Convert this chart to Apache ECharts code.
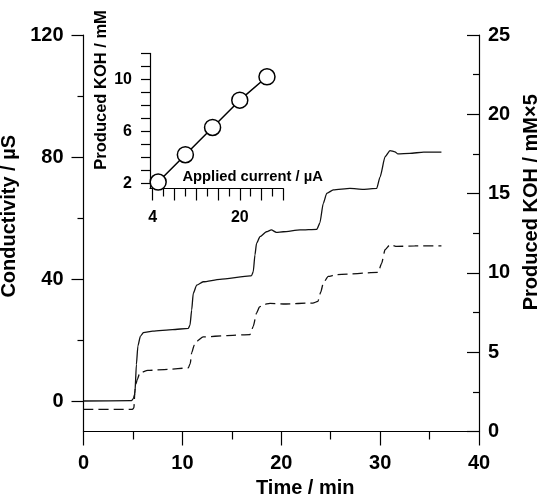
<!DOCTYPE html>
<html>
<head>
<meta charset="utf-8">
<script src="https://cdn.jsdelivr.net/npm/echarts@6/dist/echarts.min.js"></script>
<style>
  html, body { margin: 0; padding: 0; background: #fff; }
  #chart { width: 537px; height: 497px; }
</style>
</head>
<body>
<div id="chart"></div>
<script>
// Conductivity trace (solid), time in minutes and conductivity in µS
const condTime  = [0, 4.85, 5.05, 5.2, 5.35, 5.5, 5.75, 6.05, 7.0, 9.0, 10.6, 10.77, 10.94, 11.1, 11.45, 12.1, 13.8, 16.85, 17.0, 17.17, 17.34, 17.5, 17.85, 18.5, 19.0, 19.5, 20.2, 21.9, 23.6, 23.9, 24.25, 24.6, 25.26, 26.95, 28.3, 29.65, 30.0, 30.5, 31.0, 31.5, 31.8, 33.0, 34.4, 36.2];
const condValue = [0, 0.1, 0.8, 2.5, 12, 18, 21.2, 22.4, 22.9, 23.4, 23.8, 24.9, 29.8, 35.3, 38.0, 39.1, 39.9, 41.0, 41.1, 42.4, 47.9, 51.7, 53.9, 55.5, 56.1, 55.3, 55.5, 56.1, 56.3, 58.3, 64.8, 68.1, 69.2, 69.7, 69.4, 69.7, 73.5, 80.1, 82.1, 81.7, 81.0, 81.2, 81.6, 81.6];

// Produced KOH trace (dashed), mM x 5
const kohTime  = [0, 4.95, 5.1, 5.2, 5.3, 5.45, 5.7, 6.5, 8.5, 10.6, 10.8, 10.94, 11.2, 11.45, 12.1, 14.5, 16.84, 17.17, 17.5, 17.8, 18.2, 18.86, 20.2, 23.2, 23.7, 24.0, 24.25, 24.75, 25.6, 29.8, 30.15, 30.5, 31.0, 31.7, 33.5, 36.2];
const kohValue = [1.39, 1.39, 1.5, 2.6, 3.0, 3.3, 3.7, 3.85, 3.92, 4.01, 4.3, 4.96, 5.45, 5.69, 5.96, 6.05, 6.11, 6.63, 7.47, 7.85, 8.0, 8.08, 8.04, 8.1, 8.2, 8.8, 9.36, 9.78, 9.89, 10.03, 10.6, 11.46, 11.78, 11.67, 11.7, 11.71];

// Inset: applied current (µA) vs produced KOH (mM)
const currentUA = [5, 10, 15, 20, 25];
const kohMM     = [2.1, 4.2, 6.3, 8.4, 10.2];

// Tick positions and labels
const condTicks      = [0, 40, 80, 120];
const condMinorTicks = [20, 60, 100];
const insetYTicks    = [2, 3, 4, 5, 6, 7, 8, 9, 10, 11, 12];
const insetYLabels   = [2, 6, 10];
const insetXTicks    = [4, 8, 12, 16, 20, 24, 28];
const insetXMinor    = [6, 10, 14, 18, 22, 26];
const insetXLabels   = [4, 20];

const zip = (xs, ys) => xs.map((x, i) => [x, ys[i]]);

const FONT = '"Liberation Sans", Arial, Helvetica, sans-serif';
const ink = '#000';
const lineOf = { show: true, onZero: false, lineStyle: { color: ink, width: 1.2 } };
const tickStyle = { color: ink, width: 1.2 };
const txt = (size) => ({ color: ink, fontFamily: FONT, fontWeight: 'bold', fontSize: size });

const chart = echarts.init(document.getElementById('chart'), null, { renderer: 'canvas' });

chart.setOption({
  animation: false,
  backgroundColor: '#fff',
  grid: [
    { left: 83.5, right: 58, top: 35, bottom: 65.5, outerBoundsMode: 'none' },
    { left: 150, right: 253.7, top: 53.4, height: 135.1, outerBoundsMode: 'none' }
  ],
  xAxis: [
    {
      type: 'value', gridIndex: 0, position: 'bottom', min: 0, max: 40, interval: 10,
      name: 'Time / min', nameLocation: 'middle', nameGap: 45,
      nameTextStyle: Object.assign(txt(20), { padding: [0, 0, 0, 48] }),
      axisLine: lineOf,
      axisTick: { show: true, length: 14, lineStyle: tickStyle },
      minorTick: { show: true, splitNumber: 2, length: 8, lineStyle: tickStyle },
      axisLabel: Object.assign(txt(20), { margin: 22 }),
      splitLine: { show: false }
    },
    {
      type: 'value', gridIndex: 1, position: 'bottom', min: 3.5, max: 28,
      name: 'Applied current / µA', nameLocation: 'middle', nameGap: -19,
      nameTextStyle: Object.assign(txt(14.75), { padding: [0, 0, 0, 72] }),
      axisLine: lineOf,
      axisTick: { show: true, length: 12, customValues: insetXTicks, lineStyle: tickStyle },
      axisLabel: Object.assign(txt(16), { margin: 21, customValues: insetXLabels }),
      splitLine: { show: false }
    },
    {
      type: 'value', gridIndex: 1, position: 'bottom', min: 3.5, max: 28,
      axisLine: { show: false, onZero: false },
      axisTick: { show: true, length: 8, customValues: insetXMinor, lineStyle: tickStyle },
      axisLabel: { show: false },
      splitLine: { show: false }
    }
  ],
  yAxis: [
    {
      type: 'value', gridIndex: 0, position: 'left', min: -10, max: 120,
      name: 'Conductivity / µS', nameLocation: 'middle', nameGap: 46, nameRotate: 90,
      nameTextStyle: Object.assign(txt(20), { padding: [0, 0, 0, 34] }),
      axisLine: lineOf,
      axisTick: { show: true, length: 12, customValues: condTicks, lineStyle: tickStyle },
      axisLabel: Object.assign(txt(20), { margin: 20, customValues: condTicks }),
      splitLine: { show: false }
    },
    {
      type: 'value', gridIndex: 0, position: 'left', min: -10, max: 120,
      axisLine: { show: false, onZero: false },
      axisTick: { show: true, length: 6, customValues: condMinorTicks, lineStyle: tickStyle },
      axisLabel: { show: false },
      splitLine: { show: false }
    },
    {
      type: 'value', gridIndex: 0, position: 'right', min: 0, max: 25, interval: 5,
      name: 'Produced KOH / mM×5', nameLocation: 'middle', nameGap: 37, nameRotate: 90,
      nameTextStyle: Object.assign(txt(20), { padding: [0, 0, 0, 62] }),
      axisLine: lineOf,
      axisTick: { show: true, inside: true, length: 12, lineStyle: tickStyle },
      minorTick: { show: true, splitNumber: 2, length: 6, lineStyle: tickStyle },
      axisLabel: Object.assign(txt(20), { margin: 9 }),
      splitLine: { show: false }
    },
    {
      type: 'value', gridIndex: 1, position: 'left', min: 1.6, max: 12,
      name: 'Produced KOH / mM', nameLocation: 'middle', nameGap: 40, nameRotate: 90,
      nameTextStyle: Object.assign(txt(16.5), { padding: [0, 0, 0, 62] }),
      axisLine: lineOf,
      axisTick: { show: true, length: 9, customValues: insetYTicks, lineStyle: tickStyle },
      axisLabel: Object.assign(txt(16), { margin: 18, customValues: insetYLabels }),
      splitLine: { show: false }
    }
  ],
  series: [
    {
      name: 'Conductivity', type: 'line', xAxisIndex: 0, yAxisIndex: 0,
      data: zip(condTime, condValue), showSymbol: false, symbol: 'none',
      smooth: 0.2, smoothMonotone: 'x',
      lineStyle: { color: '#111', width: 1.3 }
    },
    {
      name: 'Produced KOH', type: 'line', xAxisIndex: 0, yAxisIndex: 2,
      data: zip(kohTime, kohValue), showSymbol: false, symbol: 'none',
      smooth: 0.2, smoothMonotone: 'x',
      lineStyle: { color: '#111', width: 1.3, type: [10, 5] }
    },
    {
      name: 'KOH vs current', type: 'line', xAxisIndex: 1, yAxisIndex: 3,
      data: zip(currentUA, kohMM),
      symbol: 'circle', symbolSize: 16, showSymbol: true,
      itemStyle: { color: '#fff', borderColor: ink, borderWidth: 1.5 },
      lineStyle: { color: ink, width: 1.5 },
      z: 5
    }
  ]
});
</script>
</body>
</html>
